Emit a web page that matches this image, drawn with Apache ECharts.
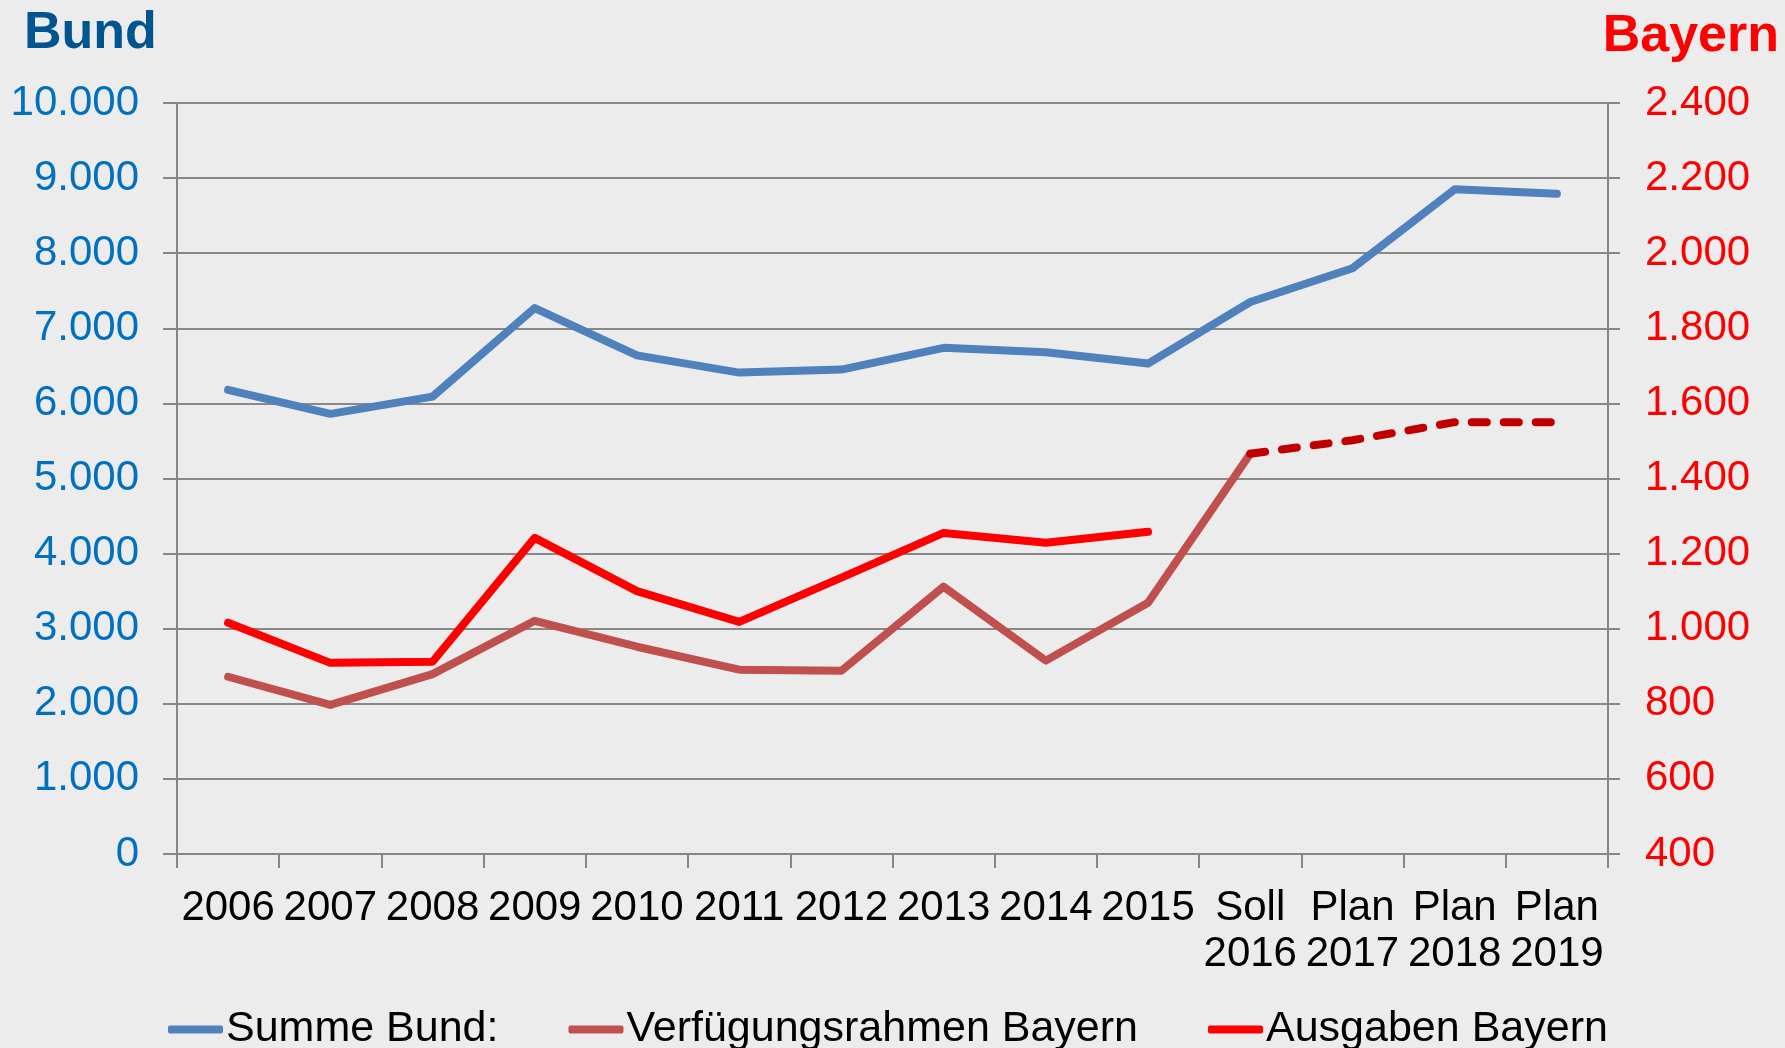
<!DOCTYPE html>
<html>
<head>
<meta charset="utf-8">
<script src="https://cdn.jsdelivr.net/npm/echarts@6/dist/echarts.min.js"></script>
<style>
html,body{margin:0;padding:0;background:#ECECEC;}
#c{width:1785px;height:1048px;}
</style>
</head>
<body>
<div id="c"></div>
<script>
const categories = ['2006','2007','2008','2009','2010','2011','2012','2013','2014','2015','Soll\n2016','Plan\n2017','Plan\n2018','Plan\n2019'];
const summeBund = [6180, 5860, 6090, 7270, 6640, 6410, 6450, 6740, 6680, 6530, 7350, 7800, 8850, 8790];
const verfuegungsrahmen = [872, 797, 879, 1021, 952, 891, 888, 1112, 915, 1069, 1466, null, null, null];
const verfuegungsrahmenPlan = [null, null, null, null, null, null, null, null, null, null, 1466, 1502, 1550, 1550];
const ausgabenBayern = [1016, 909, 912, 1242, 1100, 1018, 1136, 1255, 1229, 1258, null, null, null, null];
const leftTicks = {min: 0, max: 10000, interval: 1000};
const rightTicks = {min: 400, max: 2400, interval: 200};

function fmt(v){
  const s = String(Math.round(v));
  return s.replace(/\B(?=(\d{3})+(?!\d))/g, '.');
}

const font = '"Liberation Sans", Arial, sans-serif';
const chart = echarts.init(document.getElementById('c'));
chart.setOption({
  backgroundColor: '#ECECEC',
  animation: false,
  textStyle: {fontFamily: font},
  graphic: [
    {type: 'text', left: 24, top: 8, style: {text: 'Bund', fill: '#00548F', font: 'bold 52px ' + font}},
    {type: 'text', right: 6, top: 11, style: {text: 'Bayern', fill: '#FF0000', font: 'bold 52px ' + font}}
  ],
  grid: {left: 177, right: 177, top: 103, bottom: 194, containLabel: false},
  legend: {
    data: ['Summe Bund:', 'Verfügungsrahmen Bayern', 'Ausgaben Bayern'],
    left: 163, top: 1003,
    icon: 'roundRect',
    itemWidth: 55, itemHeight: 8, itemGap: 70,
    textStyle: {fontSize: 43, color: '#000', fontFamily: font, padding: [0,0,0,-2]}
  },
  xAxis: {
    type: 'category',
    data: categories,
    boundaryGap: true,
    axisLine: {lineStyle: {color: '#868686', width: 2}},
    axisTick: {show: true, length: 14, lineStyle: {color: '#868686', width: 2}},
    axisLabel: {interval: 0, color: '#000', fontSize: 42, lineHeight: 46, margin: 31, fontFamily: font}
  },
  yAxis: [
    {
      type: 'value', min: leftTicks.min, max: leftTicks.max, interval: leftTicks.interval,
      position: 'left',
      axisLine: {show: true, lineStyle: {color: '#868686', width: 2}},
      axisTick: {show: true, length: 14, lineStyle: {color: '#868686', width: 2}},
      splitLine: {show: true, lineStyle: {color: '#888888', width: 2}},
      axisLabel: {color: '#0070C0', fontSize: 42, margin: 38, formatter: fmt, fontFamily: font}
    },
    {
      type: 'value', min: rightTicks.min, max: rightTicks.max, interval: rightTicks.interval,
      position: 'right',
      axisLine: {show: true, lineStyle: {color: '#868686', width: 2}},
      axisTick: {show: true, length: 12, lineStyle: {color: '#868686', width: 2}},
      splitLine: {show: false},
      axisLabel: {color: '#FF0000', fontSize: 42, margin: 37, formatter: fmt, fontFamily: font}
    }
  ],
  series: [
    {name: 'Summe Bund:', type: 'line', yAxisIndex: 0, data: summeBund, symbol: 'none',
     itemStyle: {color: '#4F81BD'}, lineStyle: {color: '#4F81BD', width: 8, cap: 'round', join: 'round'}},
    {name: 'Verfügungsrahmen Bayern', type: 'line', yAxisIndex: 1, data: verfuegungsrahmen, symbol: 'none',
     itemStyle: {color: '#C0504D'}, lineStyle: {color: '#C0504D', width: 8, cap: 'round', join: 'round'}},
    {name: 'Verfügungsrahmen Plan', type: 'line', yAxisIndex: 1, data: verfuegungsrahmenPlan, symbol: 'none',
     itemStyle: {color: '#C00000'}, lineStyle: {color: '#C00000', width: 8, type: [15, 17], cap: 'round', join: 'round'}},
    {name: 'Ausgaben Bayern', type: 'line', yAxisIndex: 1, data: ausgabenBayern, symbol: 'none',
     itemStyle: {color: '#FF0000'}, lineStyle: {color: '#FF0000', width: 8, cap: 'round', join: 'round'}}
  ]
});
</script>
</body>
</html>
